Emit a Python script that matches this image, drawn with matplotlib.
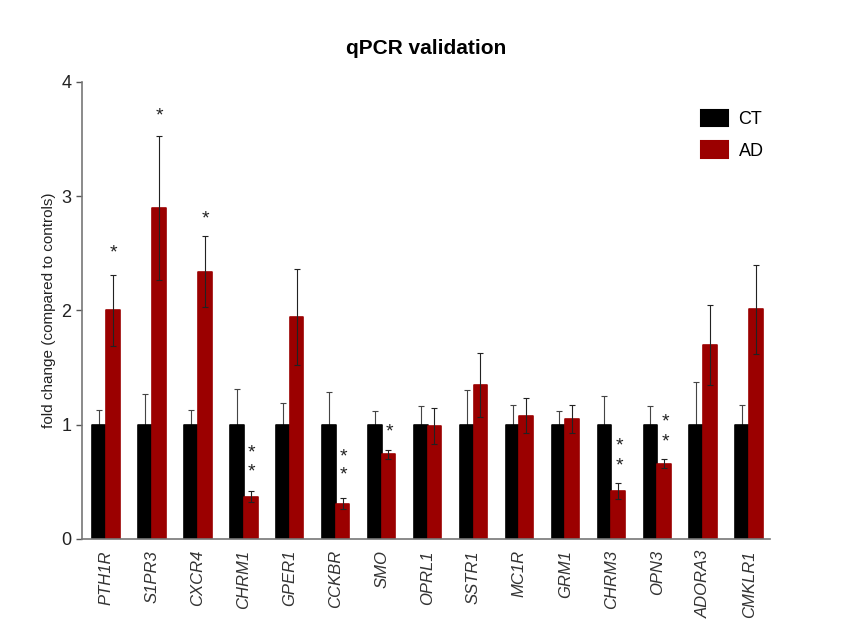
import numpy as np
import matplotlib
matplotlib.use("Agg")
import matplotlib.pyplot as plt
from matplotlib.patches import Patch

plt.rcParams['font.family'] = ['Liberation Sans', 'DejaVu Sans']

genes = ["PTH1R", "S1PR3", "CXCR4", "CHRM1", "GPER1", "CCKBR", "SMO", "OPRL1",
         "SSTR1", "MC1R", "GRM1", "CHRM3", "OPN3", "ADORA3", "CMKLR1"]
ct_mean = [1.0] * 15
ct_err = [0.13, 0.27, 0.13, 0.31, 0.19, 0.29, 0.12, 0.16,
          0.30, 0.17, 0.12, 0.25, 0.16, 0.37, 0.17]
ad_mean = [2.0, 2.9, 2.34, 0.37, 1.94, 0.31, 0.74, 0.99,
           1.35, 1.08, 1.05, 0.42, 0.66, 1.70, 2.01]
ad_err = [0.31, 0.63, 0.31, 0.05, 0.42, 0.05, 0.04, 0.16,
          0.28, 0.15, 0.12, 0.07, 0.04, 0.35, 0.39]
# significance stars: (gene index, y position)
stars = [(0, 2.53), (1, 3.73), (2, 2.83), (3, 0.78), (3, 0.62),
         (5, 0.75), (5, 0.59), (6, 0.97), (11, 0.84), (11, 0.67),
         (12, 1.05), (12, 0.88)]

ct_color = "#000000"
ad_color = "#9b0000"

fig = plt.figure(figsize=(8.52, 6.39), dpi=100)
ax = fig.add_axes([0.0962, 0.1565, 0.808, 0.7152])

x = np.arange(len(genes))
w = 0.3
ax.bar(x - w / 2, ct_mean, w, color=ct_color, edgecolor=ct_color,
       linewidth=1.2, joinstyle="round", zorder=2)
ax.bar(x + w / 2, ad_mean, w, color=ad_color, edgecolor=ad_color,
       linewidth=1.2, joinstyle="round", zorder=2)

# CT: upper error only, AD: both directions
ax.errorbar(x - w / 2, ct_mean, yerr=[np.zeros(15), ct_err], fmt="none",
            ecolor="#444444", elinewidth=0.8, capsize=2, capthick=0.8, zorder=1)
ax.errorbar(x + w / 2, ad_mean, yerr=ad_err, fmt="none",
            ecolor="#222222", elinewidth=0.8, capsize=2, capthick=0.8, zorder=3)

for i, yy in stars:
    ax.text(x[i] + w / 2 + 0.02, yy - 0.03, "*", ha="center", va="center",
            fontsize=14, color="#222222")

ax.set_xlim(-0.52, 14.46)
ax.set_ylim(0, 4)
ax.set_yticks([0, 1, 2, 3, 4])
ax.tick_params(axis="y", labelsize=13, colors="#555555", labelcolor="#222222",
               length=4, width=1)
ax.set_xticks(x)
ax.set_xticklabels(genes, rotation=90, style="italic", fontsize=12, color="#333333")
ax.tick_params(axis="x", length=0, pad=8)

for s in ["top", "right"]:
    ax.spines[s].set_visible(False)
for s in ["left", "bottom"]:
    ax.spines[s].set_color("#777777")
    ax.spines[s].set_linewidth(1.2)

ax.set_ylabel("fold change (compared to controls)", fontsize=11, color="#222222", labelpad=4)
ax.set_title("qPCR validation", fontsize=15, fontweight="bold", pad=20)

handles = [Patch(facecolor=ct_color, edgecolor=ct_color, label="CT", joinstyle="round", linewidth=1.5),
           Patch(facecolor=ad_color, edgecolor=ad_color, label="AD", joinstyle="round", linewidth=1.5)]
ax.legend(handles=handles, loc="upper left", bbox_to_anchor=(0.875, 0.975),
          frameon=False, fontsize=13, handlelength=1.5, handleheight=1.0,
          labelspacing=0.75, handletextpad=0.6)

fig.savefig("out.png", dpi=100)
